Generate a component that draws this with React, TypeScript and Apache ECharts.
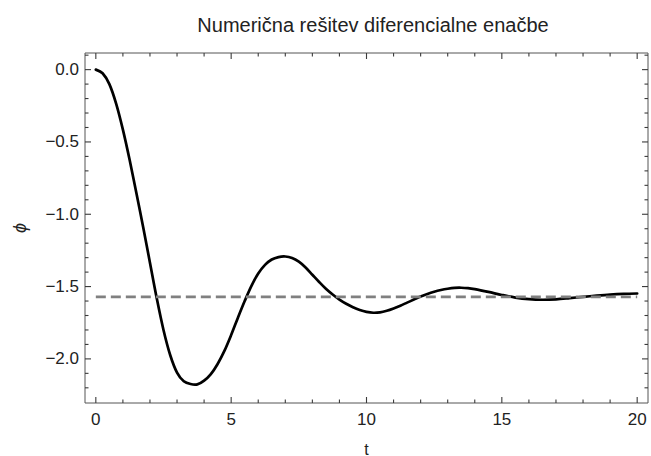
import React, { useEffect, useRef } from "react";
import * as echarts from "echarts";

// ---- data ----
const TITLE = "Numerična rešitev diferencialne enačbe";
const X_NAME = "t";
const Y_NAME = "ϕ";

const T_VALUES = [
  0, 0.25, 0.5, 0.75, 1, 1.25, 1.5, 1.75, 2, 2.25, 2.5, 2.75, 3, 3.25, 3.5, 3.75,
  4, 4.25, 4.5, 4.75, 5, 5.25, 5.5, 5.75, 6, 6.25, 6.5, 6.75, 7, 7.25, 7.5, 7.75,
  8, 8.25, 8.5, 8.75, 9, 9.25, 9.5, 9.75, 10, 10.25, 10.5, 10.75, 11, 11.25, 11.5,
  11.75, 12, 12.25, 12.5, 12.75, 13, 13.25, 13.5, 13.75, 14, 14.5, 15, 15.5, 16,
  16.5, 17, 17.5, 18, 18.5, 19, 19.5, 20,
];
const PHI_VALUES = [
  0, -0.025, -0.1, -0.235, -0.415, -0.625, -0.855, -1.09, -1.335, -1.58, -1.8,
  -1.975, -2.095, -2.155, -2.174, -2.176, -2.15, -2.105, -2.035, -1.945, -1.835,
  -1.715, -1.6, -1.495, -1.41, -1.35, -1.313, -1.296, -1.292, -1.302, -1.328,
  -1.368, -1.418, -1.468, -1.515, -1.555, -1.59, -1.619, -1.643, -1.662, -1.675,
  -1.681, -1.678, -1.667, -1.651, -1.632, -1.611, -1.59, -1.569, -1.551, -1.536,
  -1.524, -1.515, -1.509, -1.508, -1.511, -1.518, -1.537, -1.558, -1.576, -1.587,
  -1.591, -1.588, -1.58, -1.571, -1.563, -1.556, -1.551, -1.548,
];
const EQ_T = [0, 20];
const EQ_PHI = [-1.5708, -1.5708];

const X_MAJOR = [0, 5, 10, 15, 20];
const X_MINOR = [1, 2, 3, 4, 6, 7, 8, 9, 11, 12, 13, 14, 16, 17, 18, 19];
const Y_MAJOR = [0, -0.5, -1, -1.5, -2];
const Y_MINOR = [
  0.1, -0.1, -0.2, -0.3, -0.4, -0.6, -0.7, -0.8, -0.9, -1.1, -1.2, -1.3, -1.4,
  -1.6, -1.7, -1.8, -1.9, -2.1, -2.2,
];
const X_RANGE = [-0.4, 20.4];
const Y_RANGE = [-2.305, 0.115];

// ---- styling ----
const FONT = "'Liberation Sans', Arial, sans-serif";
const FRAME = "#555555";
const TICK = "#3a3a3a";
const TEXT = "#222222";
const MAJOR_LEN = 6;
const MINOR_LEN = 3.5;

function fmtY(v: number) {
  return (v < 0 ? "\u2212" : "") + Math.abs(v).toFixed(1);
}

export default function App() {
  const ref = useRef<HTMLDivElement>(null);
  useEffect(() => {
    if (!ref.current) return;
    const chart = echarts.init(ref.current, null, { renderer: "svg" });
    const curve = T_VALUES.map((t, i) => [t, PHI_VALUES[i]]);
    const eq = EQ_T.map((t, i) => [t, EQ_PHI[i]]);

    const xTicks = [
      ...X_MAJOR.map((v) => [v, Y_RANGE[0], MAJOR_LEN]),
      ...X_MINOR.map((v) => [v, Y_RANGE[0], MINOR_LEN]),
    ];
    const yTicks = [
      ...Y_MAJOR.map((v) => [X_RANGE[0], v, MAJOR_LEN]),
      ...Y_MINOR.map((v) => [X_RANGE[0], v, MINOR_LEN]),
    ];
    const tickStyle = { stroke: TICK, lineWidth: 1.1, fill: "none" };

    chart.setOption({
      animation: false,
      backgroundColor: "#ffffff",
      title: {
        text: TITLE,
        left: 368,
        top: 10,
        textAlign: "center",
        textStyle: { fontFamily: FONT, fontSize: 20, fontWeight: "normal", color: TEXT },
      },
      grid: {
        left: 85,
        top: 53,
        width: 563,
        height: 350,
        containLabel: false,
        outerBoundsMode: "none",
        show: true,
        borderColor: FRAME,
        borderWidth: 1,
        backgroundColor: "transparent",
      },
      xAxis: {
        type: "value",
        min: X_RANGE[0],
        max: X_RANGE[1],
        name: X_NAME,
        nameLocation: "middle",
        nameGap: 38,
        nameTextStyle: { fontFamily: FONT, fontSize: 16, color: TEXT },
        axisLine: { show: false, onZero: false },
        axisTick: { show: false },
        axisLabel: {
          customValues: X_MAJOR,
          margin: 8,
          fontFamily: FONT,
          fontSize: 17,
          color: TEXT,
          formatter: (v: number) => String(v),
        },
        splitLine: { show: false },
      },
      yAxis: {
        type: "value",
        min: Y_RANGE[0],
        max: Y_RANGE[1],
        name: Y_NAME,
        nameLocation: "middle",
        nameGap: 56,
        nameTextStyle: { fontFamily: FONT, fontSize: 18, color: TEXT, fontStyle: "italic" },
        axisLine: { show: false, onZero: false },
        axisTick: { show: false },
        axisLabel: {
          customValues: Y_MAJOR,
          margin: 6,
          fontFamily: FONT,
          fontSize: 17,
          color: TEXT,
          formatter: fmtY,
        },
        splitLine: { show: false },
      },
      series: [
        {
          type: "custom",
          data: xTicks,
          silent: true,
          z: 5,
          renderItem: (_p: any, api: any) => {
            const len = api.value(2);
            const b = api.coord([api.value(0), Y_RANGE[0]]);
            const t = api.coord([api.value(0), Y_RANGE[1]]);
            return {
              type: "group",
              children: [
                { type: "line", shape: { x1: b[0], y1: b[1], x2: b[0], y2: b[1] - len }, style: tickStyle },
                { type: "line", shape: { x1: t[0], y1: t[1], x2: t[0], y2: t[1] + len }, style: tickStyle },
              ],
            };
          },
        },
        {
          type: "custom",
          data: yTicks,
          silent: true,
          z: 5,
          renderItem: (_p: any, api: any) => {
            const len = api.value(2);
            const l = api.coord([X_RANGE[0], api.value(1)]);
            const r = api.coord([X_RANGE[1], api.value(1)]);
            return {
              type: "group",
              children: [
                { type: "line", shape: { x1: l[0], y1: l[1], x2: l[0] + len, y2: l[1] }, style: tickStyle },
                { type: "line", shape: { x1: r[0], y1: r[1], x2: r[0] - len, y2: r[1] }, style: tickStyle },
              ],
            };
          },
        },
        {
          type: "line",
          data: eq,
          showSymbol: false,
          symbol: "none",
          lineStyle: { color: "#808080", width: 2.8, type: [10, 5] },
          silent: true,
        },
        {
          type: "custom",
          data: curve,
          silent: true,
          renderItem: (params: any, api: any) => {
            if (params.dataIndex !== 0) return null;
            return {
              type: "polyline",
              shape: { points: curve.map((p) => api.coord(p)), smooth: 0.33 },
              style: { stroke: "#000000", lineWidth: 2.7, fill: "none", lineJoin: "round", lineCap: "round" },
            };
          },
        },
      ],
    });
    return () => chart.dispose();
  }, []);
  return (
    <div
      ref={ref}
      style={{ position: "fixed", left: 0, top: 0, width: 651, height: 456, background: "#fff" }}
    />
  );
}
